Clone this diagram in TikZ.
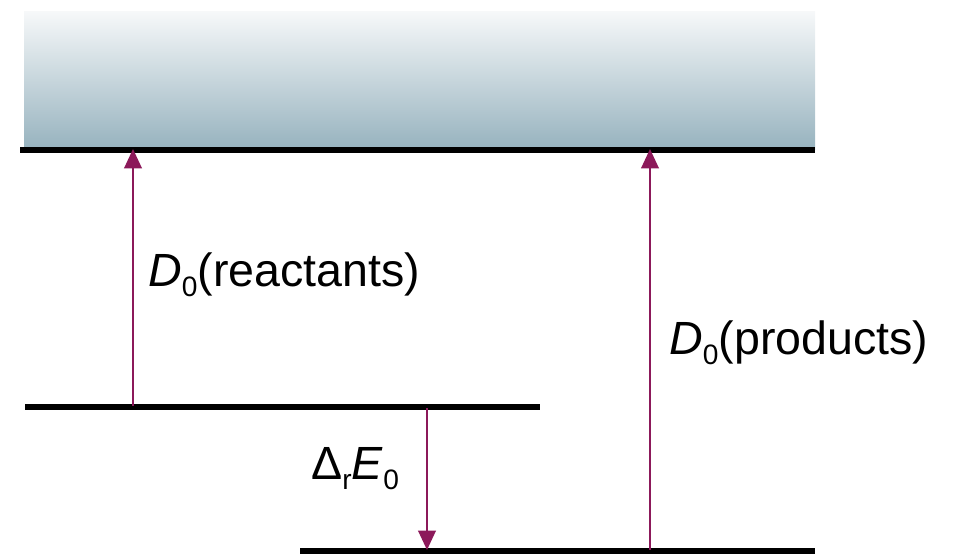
\documentclass[tikz,border=0pt]{standalone}
\usepackage{fontspec}
\setmainfont{Liberation Sans}
\usetikzlibrary{arrows.meta}
\definecolor{arrowpurple}{RGB}{140,25,90}
\definecolor{gradtop}{RGB}{246,248,249}
\definecolor{gradbot}{RGB}{150,178,190}
\newcommand{\lowsub}[1]{\raisebox{-0.4ex}{\fontsize{16}{16}\selectfont #1}}
\tikzset{
  level/.style={line width=3pt},
  trans/.style={draw=arrowpurple, line width=1.1pt, -{Triangle[length=11pt,width=10pt]}},
  lbl/.style={font=\fontsize{26.5}{30}\selectfont, inner sep=0pt}
}
\begin{document}
\begin{tikzpicture}[x=0.02cm,y=-0.02cm]
\useasboundingbox (0,0) rectangle (953,557);
% continuum
\shade[top color=gradtop, bottom color=gradbot] (24,12) rectangle (815,150);
% levels
\coordinate (topL) at (20,150);
\coordinate (topR) at (815,150);
\coordinate (midL) at (25,407);
\coordinate (midR) at (540,407);
\coordinate (botL) at (300,551);
\coordinate (botR) at (815,551);
\draw[level] (topL) -- (topR);
\draw[level] (midL) -- (midR);
\draw[level] (botL) -- (botR);
% arrows
\coordinate (a1s) at (133,406);
\coordinate (a1e) at (133,149);
\coordinate (a2s) at (650,550);
\coordinate (a2e) at (650,149);
\coordinate (a3s) at (427,408);
\coordinate (a3e) at (427,550);
\draw[trans] (a1s) -- (a1e);
\draw[trans] (a2s) -- (a2e);
\draw[trans] (a3s) -- (a3e);
% labels
\node[lbl, anchor=west] (lr) at (148,275) {\textit{D}\lowsub{0}(reactants)};
\node[lbl, anchor=west] (lp) at (669,343) {\textit{D}\lowsub{0}(products)};
\node[lbl, anchor=west] (le) at (311,469) {Δ\lowsub{r}\textit{E}\lowsub{0}};
\end{tikzpicture}
\end{document}
